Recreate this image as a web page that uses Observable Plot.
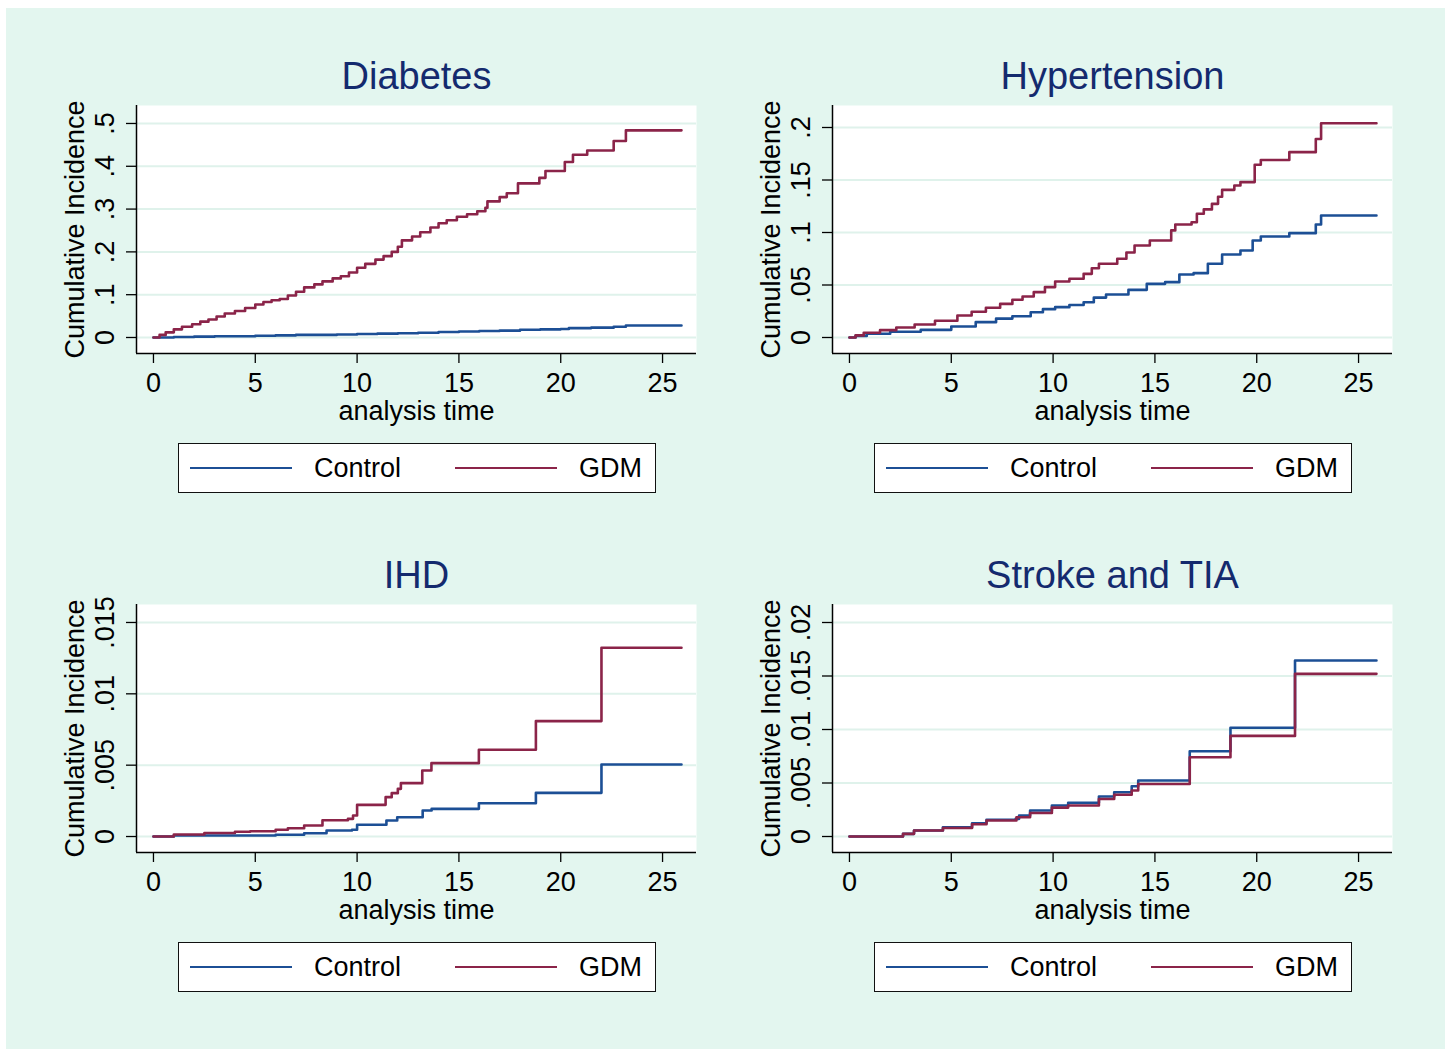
<!DOCTYPE html>
<html><head><meta charset="utf-8">
<script src="https://cdn.jsdelivr.net/npm/d3@7"></script>
<script src="https://cdn.jsdelivr.net/npm/@observablehq/plot@0.6"></script>
<style>
body{margin:0;background:#fff;width:1445px;height:1049px;overflow:hidden;font-family:"Liberation Sans",Arial,sans-serif;position:relative;}
#bg{position:absolute;left:6px;top:8px;width:1439px;height:1041px;background:#e3f6ef;}
.title{position:absolute;width:600px;text-align:center;font-size:38px;line-height:36px;color:#142a6e;white-space:nowrap;}
.plot{position:absolute;}
.legend{position:absolute;box-sizing:border-box;width:478px;height:50px;border:1.5px solid #111;background:#fff;}
.key{position:absolute;top:23px;width:102px;height:0;border-top:2.4px solid;}
.lab{position:absolute;top:9px;font-size:27px;line-height:30px;color:#000;}
</style></head>
<body><div id="bg"></div>
<script>
// ---- data ----
const groups = ["Control", "GDM"];
const groupColors = ["#1c4f95", "#8b2449"];
const panelTitles = ["Diabetes", "Hypertension", "IHD", "Stroke and TIA"];
const xTicks = [0, 5, 10, 15, 20, 25];
const xDomain = [-0.833, 26.667];
const xLabel = "analysis time";
const yLabel = "Cumulative Incidence";

const diabetesTicks = [0, 0.1, 0.2, 0.3, 0.4, 0.5];
const diabetesTickLabels = ["0", ".1", ".2", ".3", ".4", ".5"];
const hypertensionTicks = [0, 0.05, 0.1, 0.15, 0.2];
const hypertensionTickLabels = ["0", ".05", ".1", ".15", ".2"];
const ihdTicks = [0, 0.005, 0.01, 0.015];
const ihdTickLabels = ["0", ".005", ".01", ".015"];
const strokeTicks = [0, 0.005, 0.01, 0.015, 0.02];
const strokeTickLabels = ["0", ".005", ".01", ".015", ".02"];

const diabetesDomain = [-0.0374, 0.542];
const hypertensionDomain = [-0.01524, 0.22095];
const ihdDomain = [-0.00112, 0.01626];
const strokeDomain = [-0.001495, 0.021682];

const diabetesControl = [[0,0],[1,0.001],[2,0.002],[3,0.003],[4,0.003],[5,0.004],[6,0.005],[7,0.006],[8,0.006],[9,0.007],[10,0.008],[11,0.009],[12,0.010],[13,0.011],[14,0.013],[15,0.014],[16,0.015],[17,0.016],[18,0.018],[19,0.019],[20,0.020],[20.4,0.022],[21.5,0.023],[22.6,0.025],[23.2,0.028],[25.93,0.028]];
const diabetesGDM = [[0,0],[0.3,0.006],[0.6,0.012],[1.0,0.019],[1.4,0.025],[1.9,0.031],[2.3,0.037],[2.7,0.042],[3.1,0.049],[3.5,0.056],[4.0,0.062],[4.5,0.069],[5.0,0.077],[5.4,0.083],[5.8,0.087],[6.2,0.09],[6.6,0.098],[7.0,0.107],[7.4,0.117],[7.9,0.124],[8.3,0.131],[8.8,0.138],[9.2,0.143],[9.6,0.152],[10.0,0.163],[10.4,0.172],[10.9,0.182],[11.3,0.19],[11.7,0.2],[12.0,0.212],[12.2,0.227],[12.7,0.236],[13.1,0.246],[13.6,0.257],[14.0,0.267],[14.4,0.274],[14.9,0.282],[15.4,0.288],[15.9,0.295],[16.3,0.303],[16.4,0.318],[17.0,0.328],[17.35,0.337],[17.9,0.36],[18.95,0.373],[19.25,0.389],[20.2,0.41],[20.6,0.427],[21.3,0.437],[22.6,0.459],[23.2,0.484],[25.93,0.484]];

const hypertensionControl = [[0,0],[0.3,0.0015],[0.85,0.0035],[2.0,0.0055],[3.5,0.0073],[5.0,0.0105],[6.2,0.0146],[7.2,0.018],[8.0,0.0203],[8.9,0.0241],[9.5,0.027],[10.1,0.0289],[10.8,0.031],[11.5,0.0336],[12.0,0.038],[12.6,0.041],[13.7,0.0454],[14.6,0.0511],[15.5,0.0527],[16.2,0.06],[16.9,0.0613],[17.6,0.0702],[18.3,0.079],[19.2,0.0829],[19.8,0.0924],[20.2,0.0962],[21.6,0.0994],[22.9,0.1076],[23.16,0.1162],[25.88,0.1162]];
const hypertensionGDM = [[0,0],[0.3,0.002],[0.7,0.0045],[1.5,0.007],[2.3,0.0095],[3.2,0.0124],[4.2,0.016],[5.3,0.021],[6.0,0.0245],[6.7,0.0283],[7.4,0.032],[8.0,0.0359],[8.5,0.039],[9.05,0.0432],[9.6,0.048],[10.1,0.0533],[10.8,0.056],[11.5,0.0606],[11.9,0.066],[12.25,0.0702],[13.15,0.075],[13.6,0.081],[14.0,0.0876],[14.75,0.0924],[15.8,0.102],[16.0,0.1076],[16.8,0.1098],[17.06,0.1178],[17.4,0.122],[17.8,0.1273],[18.1,0.134],[18.3,0.1406],[18.9,0.1448],[19.2,0.148],[19.9,0.1645],[20.2,0.169],[21.6,0.1765],[22.9,0.189],[23.16,0.2041],[25.88,0.2041]];

const ihdControl = [[0,0],[1.0,0.00007],[6.0,0.00012],[7.4,0.00023],[8.5,0.00042],[9.75,0.00047],[10.0,0.00082],[11.44,0.00112],[11.97,0.00135],[13.22,0.00182],[13.66,0.00194],[15.98,0.00233],[18.78,0.00306],[22.0,0.00505],[25.93,0.00505]];
const ihdGDM = [[0,0],[1.0,0.00014],[2.5,0.00025],[4.0,0.00033],[4.75,0.00037],[6.0,0.00047],[6.6,0.00058],[7.4,0.00077],[8.3,0.00114],[9.55,0.00124],[9.8,0.00147],[10.0,0.00222],[11.4,0.00276],[11.7,0.00304],[12.0,0.00334],[12.15,0.00374],[13.2,0.00463],[13.65,0.00514],[15.98,0.00608],[18.78,0.00809],[22.0,0.01323],[25.93,0.01323]];

const strokeControl = [[0,0],[2.63,0.00025],[3.17,0.00056],[4.59,0.00087],[6.02,0.00124],[6.73,0.00156],[8.16,0.00165],[8.33,0.00196],[8.87,0.00243],[9.94,0.0029],[10.74,0.00315],[12.25,0.00374],[13.0,0.00414],[13.86,0.0047],[14.18,0.00523],[16.71,0.00797],[18.71,0.01016],[21.88,0.01645],[25.88,0.01645]];
const strokeGDM = [[0,0],[2.63,0.00025],[3.17,0.00056],[4.59,0.0008],[6.02,0.00115],[6.73,0.0015],[8.2,0.0018],[8.87,0.0022],[9.94,0.0027],[10.74,0.0029],[12.25,0.0035],[13.0,0.0039],[13.86,0.0043],[14.18,0.0049],[16.71,0.0074],[18.71,0.0094],[21.88,0.0152],[25.88,0.0152]];

// ---- panels ----
const panels = [
  {title: panelTitles[0], control: diabetesControl, gdm: diabetesGDM, ticks: diabetesTicks, labels: diabetesTickLabels, domain: diabetesDomain},
  {title: panelTitles[1], control: hypertensionControl, gdm: hypertensionGDM, ticks: hypertensionTicks, labels: hypertensionTickLabels, domain: hypertensionDomain},
  {title: panelTitles[2], control: ihdControl, gdm: ihdGDM, ticks: ihdTicks, labels: ihdTickLabels, domain: ihdDomain},
  {title: panelTitles[3], control: strokeControl, gdm: strokeGDM, ticks: strokeTicks, labels: strokeTickLabels, domain: strokeDomain}
];

const FONT = '"Liberation Sans", Arial, sans-serif';
const grid = "#dff2eb";

function makePlot(p) {
  const data = [
    ...p.control.map(([t, v]) => ({t, v, g: groups[0]})),
    ...p.gdm.map(([t, v]) => ({t, v, g: groups[1]}))
  ];
  return Plot.plot({
    width: 660, height: 335,
    marginLeft: 97, marginRight: 3, marginTop: 10, marginBottom: 77,
    style: {background: "transparent", fontFamily: FONT, color: "#000", overflow: "visible"},
    x: {domain: xDomain},
    y: {domain: p.domain},
    color: {domain: groups, range: groupColors},
    marks: [
      Plot.frame({fill: "white", stroke: null}),
      Plot.gridY(p.ticks, {stroke: grid, strokeOpacity: 1, strokeWidth: 2}),
      Plot.line(data, {x: "t", y: "v", z: "g", stroke: "g", curve: "step-after", strokeWidth: 2.6}),
      Plot.axisX(xTicks, {tickSize: 10, tickPadding: 9, label: null, fontSize: 27, tickFormat: d => String(d), strokeWidth: 1.3}),
      Plot.axisY(p.ticks, {tickSize: 10, tickPadding: 13, tickRotate: -90, label: null, fontSize: 27, strokeWidth: 1.3,
        tickFormat: d => p.labels[p.ticks.indexOf(d)]}),
      Plot.ruleX([xDomain[0]], {stroke: "#000", strokeWidth: 1.5}),
      Plot.ruleY([p.domain[0]], {stroke: "#000", strokeWidth: 1.5}),
      Plot.text([xLabel], {frameAnchor: "bottom", dy: 58, fontSize: 27, textAnchor: "middle", lineAnchor: "middle", text: d => d}),
      Plot.text([yLabel], {frameAnchor: "left", dx: -61, rotate: -90, fontSize: 27, textAnchor: "middle", lineAnchor: "middle", text: d => d})
    ]
  });
}

panels.forEach((p, i) => {
  const ox = (i % 2) * 696, oy = Math.floor(i / 2) * 499;
  const t = document.createElement("div");
  t.className = "title";
  t.textContent = p.title;
  t.style.left = (116.5 + ox) + "px";
  t.style.top = (58 + oy) + "px";
  document.body.appendChild(t);

  const wrap = document.createElement("div");
  wrap.className = "plot";
  wrap.style.left = (39 + ox) + "px";
  wrap.style.top = (95 + oy) + "px";
  wrap.appendChild(makePlot(p));
  document.body.appendChild(wrap);

  const lg = document.createElement("div");
  lg.className = "legend";
  lg.style.left = (178 + ox) + "px";
  lg.style.top = (443 + oy) + "px";
  const keyX = [11, 276], labX = [135, 400];
  groups.forEach((g, j) => {
    const k = document.createElement("div");
    k.className = "key";
    k.style.left = keyX[j] + "px";
    k.style.borderTopColor = groupColors[j];
    lg.appendChild(k);
    const l = document.createElement("div");
    l.className = "lab";
    l.style.left = labX[j] + "px";
    l.textContent = g;
    lg.appendChild(l);
  });
  document.body.appendChild(lg);
});
</script>
</body></html>
